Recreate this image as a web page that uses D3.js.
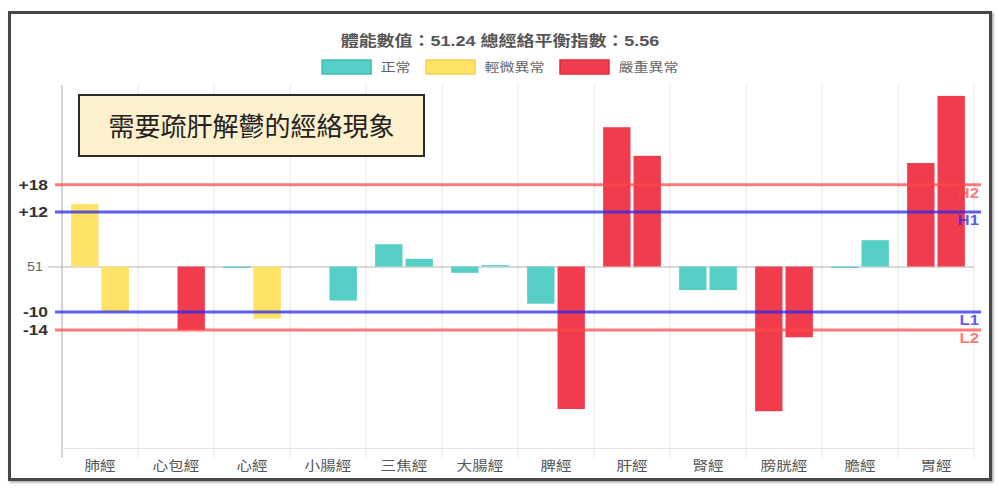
<!DOCTYPE html>
<html>
<head>
<meta charset="utf-8">
<script src="https://cdn.jsdelivr.net/npm/d3@7"></script>
<style>
  body { margin: 0; background: #fff; }
  svg { display: block; }
</style>
</head>
<body>
<div id="chart"></div>
<script>
// chart values
var categories = ["肺經", "心包經", "心經", "小腸經", "三焦經", "大腸經", "脾經", "肝經", "腎經", "膀胱經", "膽經", "胃經"];
var leftValues  = [13.8, 0, -0.3, 0, 4.9, -1.4, -8.2, 30.7, -5.2, -31.9, -0.3, 22.8];
var rightValues = [-10, -14, -11.5, -7.5, 1.7, 0.3, -31.4, 24.4, -5.2, -15.6, 5.8, 37.6];
var leftStatus  = ["slight", "normal", "normal", "normal", "normal", "normal", "normal", "severe", "normal", "severe", "normal", "severe"];
var rightStatus = ["slight", "severe", "slight", "normal", "normal", "normal", "severe", "severe", "normal", "severe", "normal", "severe"];
var statusKeys = ["normal", "slight", "severe"];
var legendLabels = ["正常", "輕微異常", "嚴重異常"];
var thresholdValues = [18, 12, -10, -14];
var thresholdNames = ["H2", "H1", "L1", "L2"];
var tickValues = [18, 12, 0, -10, -14];
var tickLabels = ["+18", "+12", "51", "-10", "-14"];
var titleText = "體能數值：51.24 總經絡平衡指數：5.56";
var noteText = "需要疏肝解鬱的經絡現象";

var w = 1000, h = 490;
var font = '"Liberation Sans", "Noto Sans CJK TC", sans-serif';
var sx = 1.2; // the chart text in the picture is stretched sideways

var fillColor = { normal: "#55cfc6", slight: "#ffe266", severe: "#f03c4c" };
var strokeColor = { normal: "#3fbdb3", slight: "#f2d050", severe: "#e02c3c" };
var lineColor = { H2: "rgba(255,70,70,0.72)", L2: "rgba(255,70,70,0.72)", H1: "rgba(40,40,235,0.75)", L1: "rgba(40,40,235,0.75)" };

var svg = d3.select("#chart").append("svg")
  .attr("width", w)
  .attr("height", h);

var defs = svg.append("defs");
defs.append("filter").attr("id", "shadow")
  .append("feDropShadow")
  .attr("dx", 1.5).attr("dy", 1.5)
  .attr("stdDeviation", 1)
  .attr("flood-color", "#000")
  .attr("flood-opacity", 0.35);

// outer frame
svg.append("rect")
  .attr("x", 9.5).attr("y", 12.5)
  .attr("width", 981).attr("height", 467)
  .attr("fill", "#fff")
  .attr("stroke", "#474747")
  .attr("stroke-width", 3)
  .attr("filter", "url(#shadow)");

var plotL = 62, plotR = 974, plotT = 85, plotB = 448;

var x = d3.scaleBand()
  .domain(categories)
  .range([plotL, plotR]);

var bw = x.bandwidth();
var sub = d3.scaleBand()
  .domain([0, 1])
  .range([bw * 0.1, bw * 0.9]);
var barW = sub.bandwidth() * 0.9;

var y = d3.scaleLinear()
  .domain([-40, 40])
  .range([plotB, plotT]);

// vertical grid
var gridX = categories.map(function(c) { return x(c); }).concat([plotR]);
svg.append("g")
  .selectAll("line")
  .data(gridX)
  .enter()
  .append("line")
  .attr("x1", function(d) { return d; })
  .attr("x2", function(d) { return d; })
  .attr("y1", plotT)
  .attr("y2", plotB + 10)
  .attr("stroke", function(d, i) { return i === 0 ? "#a8a8a8" : "#e4e4e4"; })
  .attr("stroke-width", 1);

// x axis
var xAxis = d3.axisBottom(x).tickSize(0).tickPadding(13);
var gx = svg.append("g")
  .attr("transform", "translate(0," + plotB + ")")
  .call(xAxis);
gx.select(".domain").attr("stroke", "#e4e4e4").attr("d", "M" + plotL + ",0.5H" + plotR);
gx.selectAll("text")
  .attr("font-family", font)
  .attr("font-size", 13)
  .attr("fill", "#555")
  .attr("transform", "scale(" + sx + ",1)");

// zero line
svg.append("line")
  .attr("x1", 48).attr("x2", plotR)
  .attr("y1", y(0) + 0.5).attr("y2", y(0) + 0.5)
  .attr("stroke", "#b4b4b4");

// y axis labels
var yAxis = d3.axisLeft(y)
  .tickValues(tickValues)
  .tickFormat(function(d, i) { return tickLabels[i]; })
  .tickSize(0);
var gy = svg.append("g")
  .attr("transform", "translate(" + plotL + ",0)")
  .call(yAxis);
gy.select(".domain").remove();
gy.selectAll("text")
  .attr("font-family", font)
  .attr("font-size", function(d) { return d === 0 ? 12 : 14.5; })
  .attr("font-weight", function(d) { return d === 0 ? "normal" : "bold"; })
  .attr("fill", function(d) { return d === 0 ? "#666" : "#333"; })
  .attr("x", function(d) { return (d === 0 ? -19 : -14) / sx; })
  .attr("transform", "scale(" + sx + ",1)");

// bars
var bars = [];
categories.forEach(function(c, i) {
  bars.push({ cat: c, k: 0, v: leftValues[i], s: leftStatus[i] });
  bars.push({ cat: c, k: 1, v: rightValues[i], s: rightStatus[i] });
});

svg.append("g")
  .selectAll("rect")
  .data(bars)
  .enter()
  .append("rect")
  .attr("x", function(d) { return x(d.cat) + sub(d.k) + sub.bandwidth() * 0.05; })
  .attr("width", barW)
  .attr("y", function(d) { return Math.min(y(d.v), y(0)); })
  .attr("height", function(d) { return Math.abs(y(d.v) - y(0)); })
  .attr("fill", function(d) { return fillColor[d.s]; });

// threshold lines
svg.append("g")
  .selectAll("line")
  .data(thresholdValues)
  .enter()
  .append("line")
  .attr("x1", 55).attr("x2", 981)
  .attr("y1", function(d) { return y(d); })
  .attr("y2", function(d) { return y(d); })
  .attr("stroke", function(d, i) { return lineColor[thresholdNames[i]]; })
  .attr("stroke-width", 3);

svg.append("g")
  .selectAll("text")
  .data(thresholdValues)
  .enter()
  .append("text")
  .attr("transform", function(d) { return "translate(979," + (y(d) + 13) + ") scale(" + sx + ",1)"; })
  .attr("text-anchor", "end")
  .attr("font-family", font)
  .attr("font-size", 14)
  .attr("font-weight", "bold")
  .attr("fill", function(d, i) { return lineColor[thresholdNames[i]]; })
  .text(function(d, i) { return thresholdNames[i]; });

// title
svg.append("text")
  .attr("transform", "translate(500,46) scale(" + sx + ",1)")
  .attr("text-anchor", "middle")
  .attr("font-family", font)
  .attr("font-size", 15)
  .attr("font-weight", "bold")
  .attr("fill", "#555")
  .text(titleText);

// legend
var legend = svg.append("g");
var lx = 0;
statusKeys.forEach(function(k, i) {
  var item = legend.append("g").attr("transform", "translate(" + lx + ",0)");
  item.append("rect")
    .attr("x", 0.5).attr("y", 60)
    .attr("width", 49).attr("height", 14)
    .attr("fill", fillColor[k])
    .attr("stroke", strokeColor[k])
    .attr("stroke-width", 1.5);
  var t = item.append("text")
    .attr("transform", "translate(59,72) scale(" + sx + ",1)")
    .attr("font-family", font)
    .attr("font-size", 12.5)
    .attr("fill", "#666")
    .text(legendLabels[i]);
  lx += 59 + t.node().getComputedTextLength() * sx + 15;
});
legend.attr("transform", "translate(" + (500 - (lx - 15) / 2) + ",0)");

// note box
svg.append("rect")
  .attr("x", 79).attr("y", 95)
  .attr("width", 345).attr("height", 61)
  .attr("fill", "#fdf0cd")
  .attr("stroke", "#2b2b2b")
  .attr("stroke-width", 2);
svg.append("text")
  .attr("x", 251.5).attr("y", 136)
  .attr("text-anchor", "middle")
  .attr("font-family", '"Noto Sans CJK TC", sans-serif')
  .attr("font-size", 26)
  .attr("fill", "#222")
  .text(noteText);
</script>
</body>
</html>
